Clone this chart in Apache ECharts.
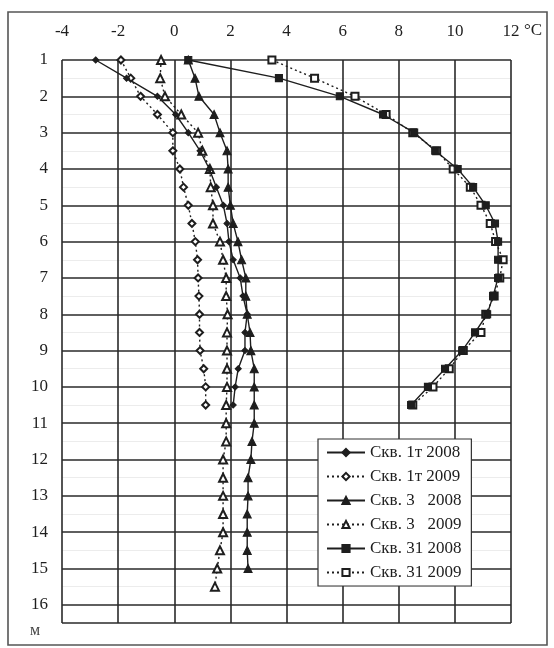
<!DOCTYPE html>
<html><head><meta charset="utf-8">
<script src="https://cdn.jsdelivr.net/npm/echarts@6/dist/echarts.min.js"></script>
<style>html,body{margin:0;padding:0;background:#fff}#c{width:554px;height:648px}</style>
</head><body><div id="c"></div>
<script>
// depths (m)
const depthsA = [1,1.5,2,2.5,3,3.5,4,4.5,5,5.5,6,6.5,7,7.5,8,8.5,9,9.5,10,10.5];
const depths3_2008 = [1,1.5,2,2.5,3,3.5,4,4.5,5,5.5,6,6.5,7,7.5,8,8.5,9,9.5,10,10.5,11,11.5,12,12.5,13,13.5,14,14.5,15];
const depths3_2009 = [1,1.5,2,2.5,3,3.5,4,4.5,5,5.5,6,6.5,7,7.5,8,8.5,9,9.5,10,10.5,11,11.5,12,12.5,13,13.5,14,14.5,15,15.5];
// temperatures (°C)
const t1_2008 = [-2.8,-1.7,-0.6,0.05,0.5,0.92,1.25,1.5,1.75,1.88,1.95,2.1,2.35,2.45,2.6,2.52,2.52,2.28,2.17,2.1];
const t1_2009 = [-1.9,-1.55,-1.2,-0.6,-0.05,-0.05,0.2,0.33,0.5,0.63,0.75,0.83,0.85,0.88,0.9,0.9,0.92,1.05,1.12,1.12];
const t3_2008 = [0.5,0.74,0.88,1.42,1.63,1.88,1.92,1.92,2.0,2.1,2.27,2.4,2.55,2.55,2.6,2.7,2.73,2.85,2.85,2.85,2.85,2.77,2.73,2.63,2.63,2.6,2.6,2.6,2.63];
const t3_2009 = [-0.47,-0.5,-0.33,0.25,0.85,1.0,1.27,1.3,1.38,1.38,1.63,1.74,1.85,1.85,1.9,1.88,1.88,1.88,1.88,1.85,1.85,1.85,1.74,1.74,1.74,1.74,1.74,1.63,1.53,1.45];
const t31_2008 = [0.5,3.73,5.9,7.44,8.55,9.3,10.1,10.65,11.1,11.43,11.54,11.54,11.54,11.36,11.15,10.72,10.26,9.65,9.04,8.44];
const t31_2009 = [3.48,5.0,6.44,7.55,8.5,9.35,9.94,10.55,10.93,11.26,11.45,11.72,11.6,11.4,11.1,10.93,10.3,9.8,9.22,8.5];
const names = ['Скв. 1т 2008','Скв. 1т 2009','Скв. 3   2008','Скв. 3   2009','Скв. 31 2008','Скв. 31 2009'];

const FONT = 'Liberation Serif';
const INK = '#1e1e1e';
function pairs(t, d){ return t.map((v,i)=>[v,d[i]]); }
function mk(name, t, d, symbol, size, dotted, z){
  return {
    name, type:'line', data: pairs(t,d), symbol, symbolSize: size,
    lineStyle:{color:INK, width:1.4, type: dotted ? [2,3] : 'solid'},
    itemStyle:{color:INK, borderColor:INK, borderWidth:1.1},
    emphasis:{disabled:true}, animation:false, z:z
  };
}
const chart = echarts.init(document.getElementById('c'), null, {renderer:'canvas'});
chart.setOption({
  animation:false,
  backgroundColor:'#fff',
  grid:{left:62, top:60, width:449, height:563, containLabel:false},
  xAxis:{type:'value', position:'top', min:-4, max:12, interval:2,
    axisLine:{show:false}, axisTick:{show:false},
    axisLabel:{fontFamily:FONT, fontSize:17, color:INK, margin:20},
    splitLine:{show:true, lineStyle:{color:'#2a2a2a', width:1.6}}},
  yAxis:{type:'value', inverse:true, min:1, max:16.5, interval:1,
    axisLine:{show:false}, axisTick:{show:false},
    axisLabel:{fontFamily:FONT, fontSize:17, color:INK, margin:14,
      formatter: v => (Number.isInteger(v) ? String(v) : '')},
    splitLine:{show:true, lineStyle:{color:'#2a2a2a', width:1.6}},
    minorTick:{show:false, splitNumber:2},
    minorSplitLine:{show:true, lineStyle:{color:'#ececec', width:1}}},
  legend:{orient:'vertical', left:318, top:439, itemWidth:38, itemHeight:9, itemGap:7,
    backgroundColor:'#fff', borderColor:'#333', borderWidth:1.2, padding:[5,10,5,8],
    textStyle:{fontFamily:FONT, fontSize:17, color:INK}, data:names, selectedMode:false},
  series:[
    mk(names[1], t1_2009, depthsA, 'emptyDiamond', 7, true, 3),
    mk(names[3], t3_2009, depths3_2009, 'emptyTriangle', 8, true, 3),
    mk(names[5], t31_2009, depthsA, 'emptyRect', 7, true, 3),
    mk(names[0], t1_2008, depthsA, 'diamond', 6, false, 4),
    mk(names[2], t3_2008, depths3_2008, 'triangle', 8, false, 4),
    mk(names[4], t31_2008, depthsA, 'rect', 7, false, 4)
  ],
  graphic:[
    {type:'rect', shape:{x:8, y:12, width:539, height:633}, style:{fill:'none', stroke:'#555', lineWidth:1.6}, z:0, silent:true},
    {type:'text', left:524, top:22, style:{text:'°C', font:'17px "Liberation Serif"', fill:INK}, z:10},
    {type:'text', left:30, top:623, style:{text:'м', font:'16px "Liberation Serif"', fill:'#444'}, z:10}
  ]
});
</script></body></html>
